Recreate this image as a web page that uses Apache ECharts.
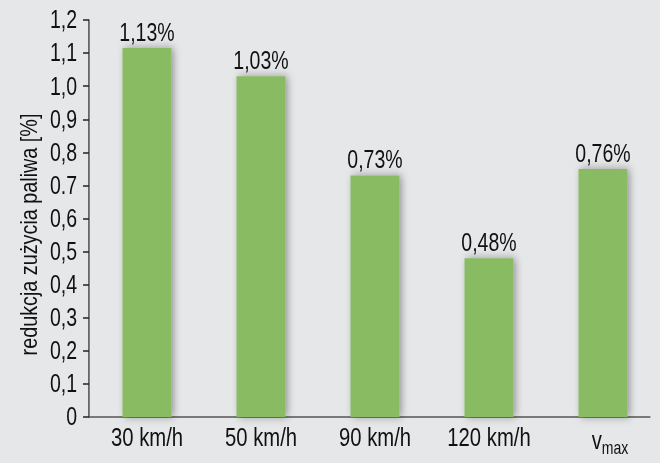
<!DOCTYPE html>
<html><head><meta charset="utf-8">
<script src="https://cdn.jsdelivr.net/npm/echarts@6/dist/echarts.min.js"></script>
<style>
html,body{margin:0;padding:0;background:#e6e7e9;overflow:hidden;width:660px;height:463px}
#c{width:846px;height:463px;transform:scaleX(0.78014);transform-origin:0 0}
</style>
</head><body><div id="c"></div>
<script>
const categories = ['30 km/h', '50 km/h', '90 km/h', '120 km/h', '{v|v}{sub|max}'];
const values = [1.115, 1.03, 0.73, 0.48, 0.75];
const valueLabels = ['1,13%', '1,03%', '0,73%', '0,48%', '0,76%'];
const yTicks = ['0', '0,1', '0,2', '0,3', '0,4', '0,5', '0,6', '0.7', '0,8', '0,9', '1,0', '1,1', '1,2'];
const yName = 'redukcja zużycia paliwa [%]';

const K = 660 / 846;            // horizontal condensing factor (page is squeezed by CSS)
const px = v => v / K;          // convert on-screen horizontal pixels to chart pixels
const FONT = '"Liberation Sans", Arial, sans-serif';
const TXT = '#111111';

const chart = echarts.init(document.getElementById('c'), null, {renderer: 'svg'});
chart.setOption({
  backgroundColor: '#e6e7e9',
  animation: false,
  grid: [
    {left: px(89), right: px(10), top: 20, bottom: 46},
    {left: px(90), right: px(-4), top: 20, bottom: 46}
  ],
  xAxis: [
    {gridIndex: 0, type: 'value', min: 0, max: 1,
      axisLine: {show: true, onZero: false, lineStyle: {color: '#555', width: 1.5}},
      axisTick: {show: false}, axisLabel: {show: false}, splitLine: {show: false}},
    {gridIndex: 1, type: 'category', data: categories,
      axisLine: {show: false}, axisTick: {show: false},
      axisLabel: {interval: 0, color: TXT, fontFamily: FONT, fontSize: 26, margin: 7,
        rich: {
          v: {fontFamily: FONT, fontSize: 26, color: TXT, padding: [0, 0, 0, 18]},
          sub: {fontFamily: FONT, fontSize: 18, color: TXT, padding: [14, 0, 0, 0]}
        }}}
  ],
  yAxis: [
    {gridIndex: 0, type: 'value', min: 0, max: 1.2, interval: 0.1,
      axisLine: {show: true, lineStyle: {color: '#222', width: 1.5}},
      axisTick: {show: true, length: px(6), lineStyle: {color: '#222', width: 1.5}},
      axisLabel: {color: TXT, fontFamily: FONT, fontSize: 25, margin: px(12),
        formatter: v => yTicks[Math.round(v * 10)]},
      splitLine: {show: true, lineStyle: {color: '#3c3c3c', width: 1.6,
        shadowColor: '#ffffff', shadowOffsetY: 1.5, shadowBlur: 0}}},
    {gridIndex: 1, type: 'value', min: 0, max: 1.2, interval: 0.1, show: false}
  ],
  graphic: [{
    type: 'text', x: px(28.5), y: 234.5, rotation: Math.PI / 2,
    scaleX: 0.66, scaleY: 1,
    style: {text: yName, fill: TXT, font: '30px ' + FONT, align: 'center', verticalAlign: 'middle'}
  }],
  series: [{
    type: 'bar', xAxisIndex: 1, yAxisIndex: 1, data: values, barWidth: px(49),
    itemStyle: {color: '#88bb62', shadowColor: 'rgba(0,0,0,0.35)', shadowBlur: 10, shadowOffsetX: 3, shadowOffsetY: 0},
    label: {show: true, position: 'top', distance: 3, color: TXT, fontFamily: FONT, fontSize: 25,
      formatter: p => valueLabels[p.dataIndex]}
  }]
});
</script></body></html>
